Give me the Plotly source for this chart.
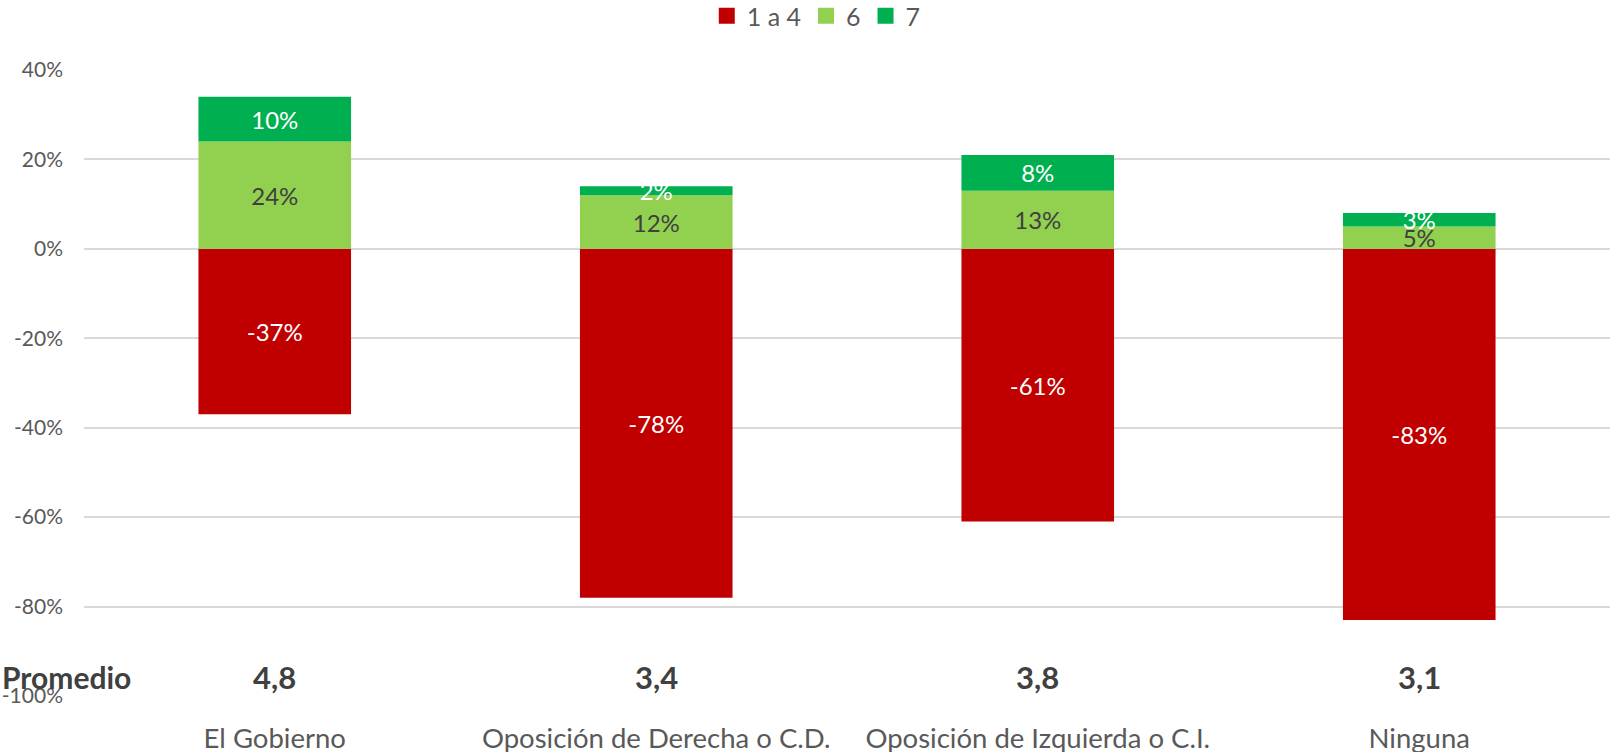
import plotly.graph_objects as go

categories = ["El Gobierno", "Oposición de Derecha o C.D.", "Oposición de Izquierda o C.I.", "Ninguna"]
v_1a4 = [-0.37, -0.78, -0.61, -0.83]
v_6 = [0.24, 0.12, 0.13, 0.05]
v_7 = [0.10, 0.02, 0.08, 0.03]
promedio = ["4,8", "3,4", "3,8", "3,1"]
series_names = ["1 a 4", "6", "7"]
colors = ["#C00000", "#92D050", "#00B050"]
text_colors = ["white", "#404040", "white"]
y_ticks = [-1.0, -0.8, -0.6, -0.4, -0.2, 0.0, 0.2, 0.4]
y_ticktext = ["-100%", "-80%", "-60%", "-40%", "-20%", "0%", "20%", "40%"]

FONT = "Lato"
W, H = 1610, 752
ML, MR, MT, MB = 84, 0, 70, 56
fig = go.Figure()
for name, vals, col, tcol in zip(series_names, [v_1a4, v_6, v_7], colors, text_colors):
    fig.add_trace(go.Bar(
        x=categories, y=vals, name=name, marker=dict(color=col, line=dict(width=0)),
        text=[f"{v:.0%}" for v in vals], textposition="inside", insidetextanchor="middle",
        textangle=0, constraintext="none",
        insidetextfont=dict(family=FONT, size=24, color=tcol),
        showlegend=False, hoverinfo="skip",
    ))
    fig.add_trace(go.Scatter(
        x=[None], y=[None], mode="markers", name=name,
        marker=dict(symbol="square", size=16, color=col), showlegend=True,
    ))

for cat, p in zip(categories, promedio):
    fig.add_annotation(x=cat, y=-0.957, text=f"<b>{p}</b>", showarrow=False,
                       font=dict(family=FONT, size=31, color="#404040"),
                       xanchor="center", yanchor="middle")
fig.add_annotation(x=-ML / (W - ML - MR), xref="paper", y=-0.957, yref="y", text="<b>Promedio</b>",
                   showarrow=False, xanchor="left", yanchor="middle",
                   font=dict(family=FONT, size=30, color="#404040"))

fig.update_layout(
    width=W, height=H,
    barmode="relative", bargap=0.6,
    plot_bgcolor="white", paper_bgcolor="white",
    margin=dict(l=ML, r=MR, t=MT, b=MB, autoexpand=False),
    font=dict(family=FONT, color="#595959"),
    legend=dict(orientation="h", xref="container", yref="container",
                x=0.507, xanchor="center", y=1 - 16 / H, yanchor="middle",
                font=dict(family=FONT, size=25, color="#595959"),
                itemsizing="trace", traceorder="normal"),
    xaxis=dict(showgrid=False, showline=False, ticks="", automargin=False,
               tickfont=dict(family=FONT, size=27.5, color="#595959"),
               ticklabelstandoff=23),
    yaxis=dict(range=[-1.0, 0.4], tickvals=y_ticks, ticktext=y_ticktext,
               showgrid=True, gridcolor="#D9D9D9", gridwidth=1.5,
               zeroline=True, zerolinecolor="#D9D9D9", zerolinewidth=1.5,
               showline=False, ticks="", automargin=False,
               tickfont=dict(family=FONT, size=21, color="#595959"),
               ticklabelstandoff=20),
)
fig.write_html("out.html", config={"displayModeBar": False},
               post_script="document.body.style.margin='0';document.body.style.overflow='hidden';")
